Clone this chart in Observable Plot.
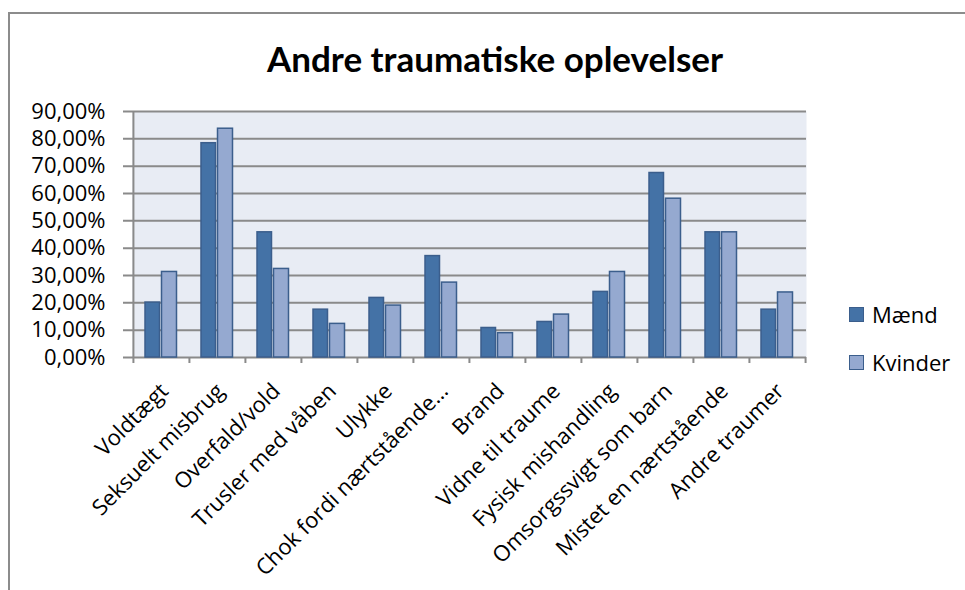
<!DOCTYPE html>
<html>
<head>
<meta charset="utf-8">
<script src="https://cdn.jsdelivr.net/npm/d3@7"></script>
<script src="https://cdn.jsdelivr.net/npm/@observablehq/plot@0.6"></script>
<style>
  html, body { margin: 0; padding: 0; background: #fff; }
  #wrap { position: relative; width: 965px; height: 590px; overflow: hidden; background: #fff; font-family: "Open Sans", Lato, sans-serif; }
  #border { position: absolute; left: 8px; top: 12px; width: 1000px; height: 700px; border-left: 2px solid #8c8c8c; border-top: 2px solid #8c8c8c; }
  #title { position: absolute; left: 0; width: 990px; top: 37px; text-align: center; font-family: Lato, sans-serif; font-weight: bold; font-size: 35px; line-height: 42px; color: #000; }
  #chart { position: absolute; left: 0; top: 0; }
  .leg { position: absolute; left: 849px; font-size: 22px; line-height: 24px; color: #000; display: flex; align-items: center; }
  .sw { width: 13px; height: 13px; border: 1px solid #3b5e8c; margin-right: 8px; }
</style>
</head>
<body>
<div id="wrap">
  <div id="border"></div>
  <div id="chart"></div>
  <div id="title"></div>
  <div id="legend"></div>
</div>
<script>
const title = "Andre traumatiske oplevelser";
const categories = ["Voldtægt", "Seksuelt misbrug", "Overfald/vold", "Trusler med våben", "Ulykke", "Chok fordi nærtstående…", "Brand", "Vidne til traume", "Fysisk mishandling", "Omsorgssvigt som barn", "Mistet en nærtstående", "Andre traumer"];
const seriesNames = ["Mænd", "Kvinder"];
const maend   = [0.201, 0.784, 0.458, 0.175, 0.218, 0.371, 0.108, 0.130, 0.240, 0.675, 0.458, 0.175];
const kvinder = [0.313, 0.837, 0.324, 0.123, 0.190, 0.274, 0.089, 0.157, 0.313, 0.581, 0.458, 0.238];
const yTicks = [0, 0.1, 0.2, 0.3, 0.4, 0.5, 0.6, 0.7, 0.8, 0.9];
const colors = ["#4472a6", "#95a9d0"];
const strokeCol = "#3b5e8c";

const W = 965, H = 590;
const mL = 132, mR = 159, mT = 111, mB = 233;
const step = (W - mL - mR) / categories.length;

const dataM = categories.map((c, i) => ({cat: c, value: maend[i]}));
const dataK = categories.map((c, i) => ({cat: c, value: kvinder[i]}));
const fmt = d => (d * 100).toFixed(2).replace(".", ",") + "%";

const chart = Plot.plot({
  width: W,
  height: H,
  marginLeft: mL,
  marginRight: mR,
  marginTop: mT,
  marginBottom: mB,
  style: {background: "transparent", fontFamily: "'Open Sans', Lato, sans-serif", fontSize: "22px", color: "#000"},
  x: {type: "band", domain: categories, padding: 0, label: null},
  y: {domain: [0, 0.9], label: null},
  marks: [
    Plot.frame({fill: "#e8ecf4", stroke: "none"}),
    Plot.ruleY(yTicks, {stroke: "#8a8a8a", strokeWidth: 2, insetLeft: -9}),
    // left axis line
    Plot.ruleX([categories[0]], {y1: 0.9, y2: 0, dx: -step / 2, stroke: "#8a8a8a", strokeWidth: 2, insetBottom: -6}),
    // category boundary ticks
    Plot.ruleX(categories.slice(1), {y1: 0, y2: 0, dx: -step / 2, stroke: "#8a8a8a", strokeWidth: 2, insetBottom: -6}),
    Plot.ruleX([categories[categories.length - 1]], {y1: 0, y2: 0, dx: step / 2, stroke: "#8a8a8a", strokeWidth: 2, insetBottom: -6}),
    Plot.barY(dataM, {x: "cat", y: "value", fill: colors[0], stroke: strokeCol, strokeWidth: 1.5, insetLeft: 12, insetRight: 29.5}),
    Plot.barY(dataK, {x: "cat", y: "value", fill: colors[1], stroke: strokeCol, strokeWidth: 1.5, insetLeft: 28.5, insetRight: 12.5}),
    Plot.axisY({ticks: yTicks, tickSize: 0, tickPadding: 27, tickFormat: fmt, label: null, fontSize: 22}),
    Plot.axisX({tickSize: 0, tickRotate: -45, tickPadding: 30, dx: 3, label: null, fontSize: 22})
  ]
});
document.getElementById("chart").appendChild(chart);
document.getElementById("title").textContent = title;

const legend = document.getElementById("legend");
const legTops = [302, 350];
seriesNames.forEach((name, i) => {
  const row = document.createElement("div");
  row.className = "leg";
  row.style.top = legTops[i] + "px";
  const sw = document.createElement("div");
  sw.className = "sw";
  sw.style.background = colors[i];
  row.appendChild(sw);
  const t = document.createElement("span");
  t.textContent = name;
  row.appendChild(t);
  legend.appendChild(row);
});
</script>
</body>
</html>
